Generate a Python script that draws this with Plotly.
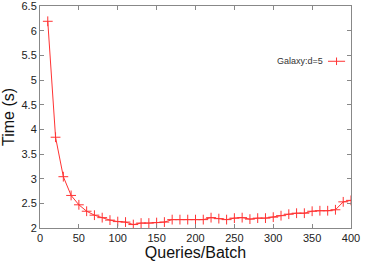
import plotly.graph_objects as go

queries = [10, 20, 30, 40, 50, 60, 70, 80, 90, 100,
           110, 120, 130, 140, 150, 160, 170, 180, 190, 200,
           210, 220, 230, 240, 250, 260, 270, 280, 290, 300,
           310, 320, 330, 340, 350, 360, 370, 380, 390, 400]
time_s = [6.19, 3.84, 3.04, 2.66, 2.47, 2.34, 2.26, 2.21, 2.16, 2.13,
          2.12, 2.07, 2.10, 2.10, 2.11, 2.12, 2.17, 2.17, 2.17, 2.17,
          2.17, 2.21, 2.19, 2.17, 2.20, 2.21, 2.18, 2.20, 2.20, 2.22,
          2.25, 2.28, 2.30, 2.30, 2.34, 2.35, 2.35, 2.37, 2.53, 2.56]
series_name = "Galaxy:d=5"
x_ticks = [0, 50, 100, 150, 200, 250, 300, 350, 400]
y_ticks = [2, 2.5, 3, 3.5, 4, 4.5, 5, 5.5, 6, 6.5]

RED = "#ff3333"
AX = "#888888"
FONT = "Liberation Sans, Arial, sans-serif"

fig = go.Figure()
fig.add_trace(go.Scatter(
    x=queries, y=time_s, mode="lines+markers", name=series_name,
    line=dict(color=RED, width=1),
    marker=dict(symbol="cross-thin", size=7, line=dict(color=RED, width=1)),
    showlegend=False,
))

axis_common = dict(
    showline=True, linecolor=AX, linewidth=1, mirror="ticks",
    ticks="inside", ticklen=4, tickcolor=AX, tickwidth=1,
    showgrid=False, zeroline=False, automargin=False,
    ticklabeloverflow="allow",
    tickfont=dict(family=FONT, size=11, color="#222222"),
)

fig.update_layout(
    width=374, height=262,
    margin=dict(l=40, r=23, t=6, b=34),
    paper_bgcolor="white", plot_bgcolor="white",
    font=dict(family=FONT),
    xaxis=dict(range=[0, 400], tickvals=x_ticks,
               title=dict(text="Queries/Batch", font=dict(size=16, color="#111111"), standoff=0),
               **axis_common),
    yaxis=dict(range=[2, 6.5], tickvals=y_ticks,
               ticktext=[f"{v:g}" for v in y_ticks],
               title=dict(text="Time (s)", font=dict(size=16, color="#111111"), standoff=2),
               **axis_common),
)

# legend entry drawn manually: text left of the sample, as in the reference
fig.add_annotation(x=0.915, y=0.751, xref="paper", yref="paper",
                   text=series_name, showarrow=False, xanchor="right", yanchor="middle",
                   font=dict(family=FONT, size=9, color="#333333"))
fig.add_shape(type="line", xref="paper", yref="paper",
              x0=0.926, x1=0.981, y0=0.751, y1=0.751, line=dict(color=RED, width=1))
fig.add_shape(type="line", xref="paper", yref="paper",
              x0=0.9535, x1=0.9535, y0=0.734, y1=0.768, line=dict(color=RED, width=1))

fig.write_html("out.html", config={"displayModeBar": False},
               post_script="document.body.style.margin='0';")
